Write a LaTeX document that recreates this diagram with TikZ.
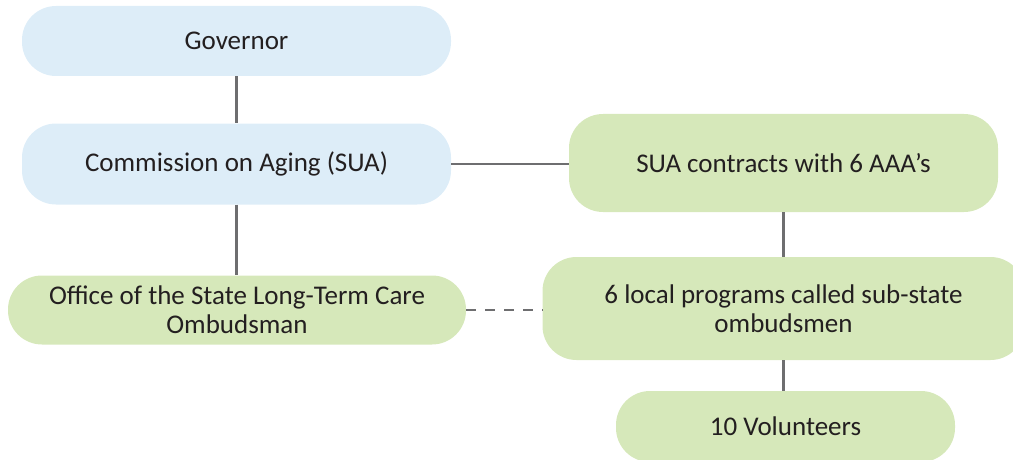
\documentclass[tikz,border=0pt]{standalone}
\usepackage{fontspec}
\setmainfont{Carlito}
\definecolor{boxblue}{HTML}{DDEDF8}
\definecolor{boxgreen}{HTML}{D6E8BA}
\definecolor{txt}{HTML}{231F20}
\definecolor{linecol}{HTML}{6E6E70}
\begin{document}
\begin{tikzpicture}[x=1pt,y=-1pt,
  box/.style={rectangle,rounded corners=34pt,align=center,inner sep=0pt,
    text=txt,font=\fontsize{27}{29}\selectfont},
  bluebox/.style={box,fill=boxblue},
  greenbox/.style={box,fill=boxgreen},
  conn/.style={draw=linecol,line width=2.5pt},
  dconn/.style={conn,dash pattern=on 10pt off 9pt}]
\useasboundingbox (0,0) rectangle (1013,460);
\clip (0,0) rectangle (1013,460);
\node[bluebox,minimum width=429pt,minimum height=70pt] (gov) at (236.5,41) {Governor};
\node[bluebox,minimum width=429pt,minimum height=81pt] (com) at (236.5,164) {Commission on Aging (SUA)};
\node[greenbox,minimum width=429pt,minimum height=98pt] (sua) at (783.5,163) {SUA contracts with 6 AAA’s};
\node[greenbox,minimum width=458pt,minimum height=69pt] (off) at (237,310) {Office of the State Long-Term Care\\Ombudsman};
\node[greenbox,minimum width=482pt,minimum height=103pt] (loc) at (783.5,308.5) {6 local programs called sub-state\\ombudsmen};
\node[greenbox,minimum width=339pt,minimum height=71pt] (vol) at (785.5,426.5) {10 Volunteers};
\draw[conn] (gov.south) -- (com.north);
\draw[conn] (com.south) -- (com.south |- off.north);
\draw[conn] (com.east) -- (com.east -| sua.west);
\draw[conn] (sua.south) -- (sua.south |- loc.north);
\draw[conn] (loc.south) -- (loc.south |- vol.north);
\draw[dconn] (off.east) -- (off.east -| loc.west);
\end{tikzpicture}
\end{document}
